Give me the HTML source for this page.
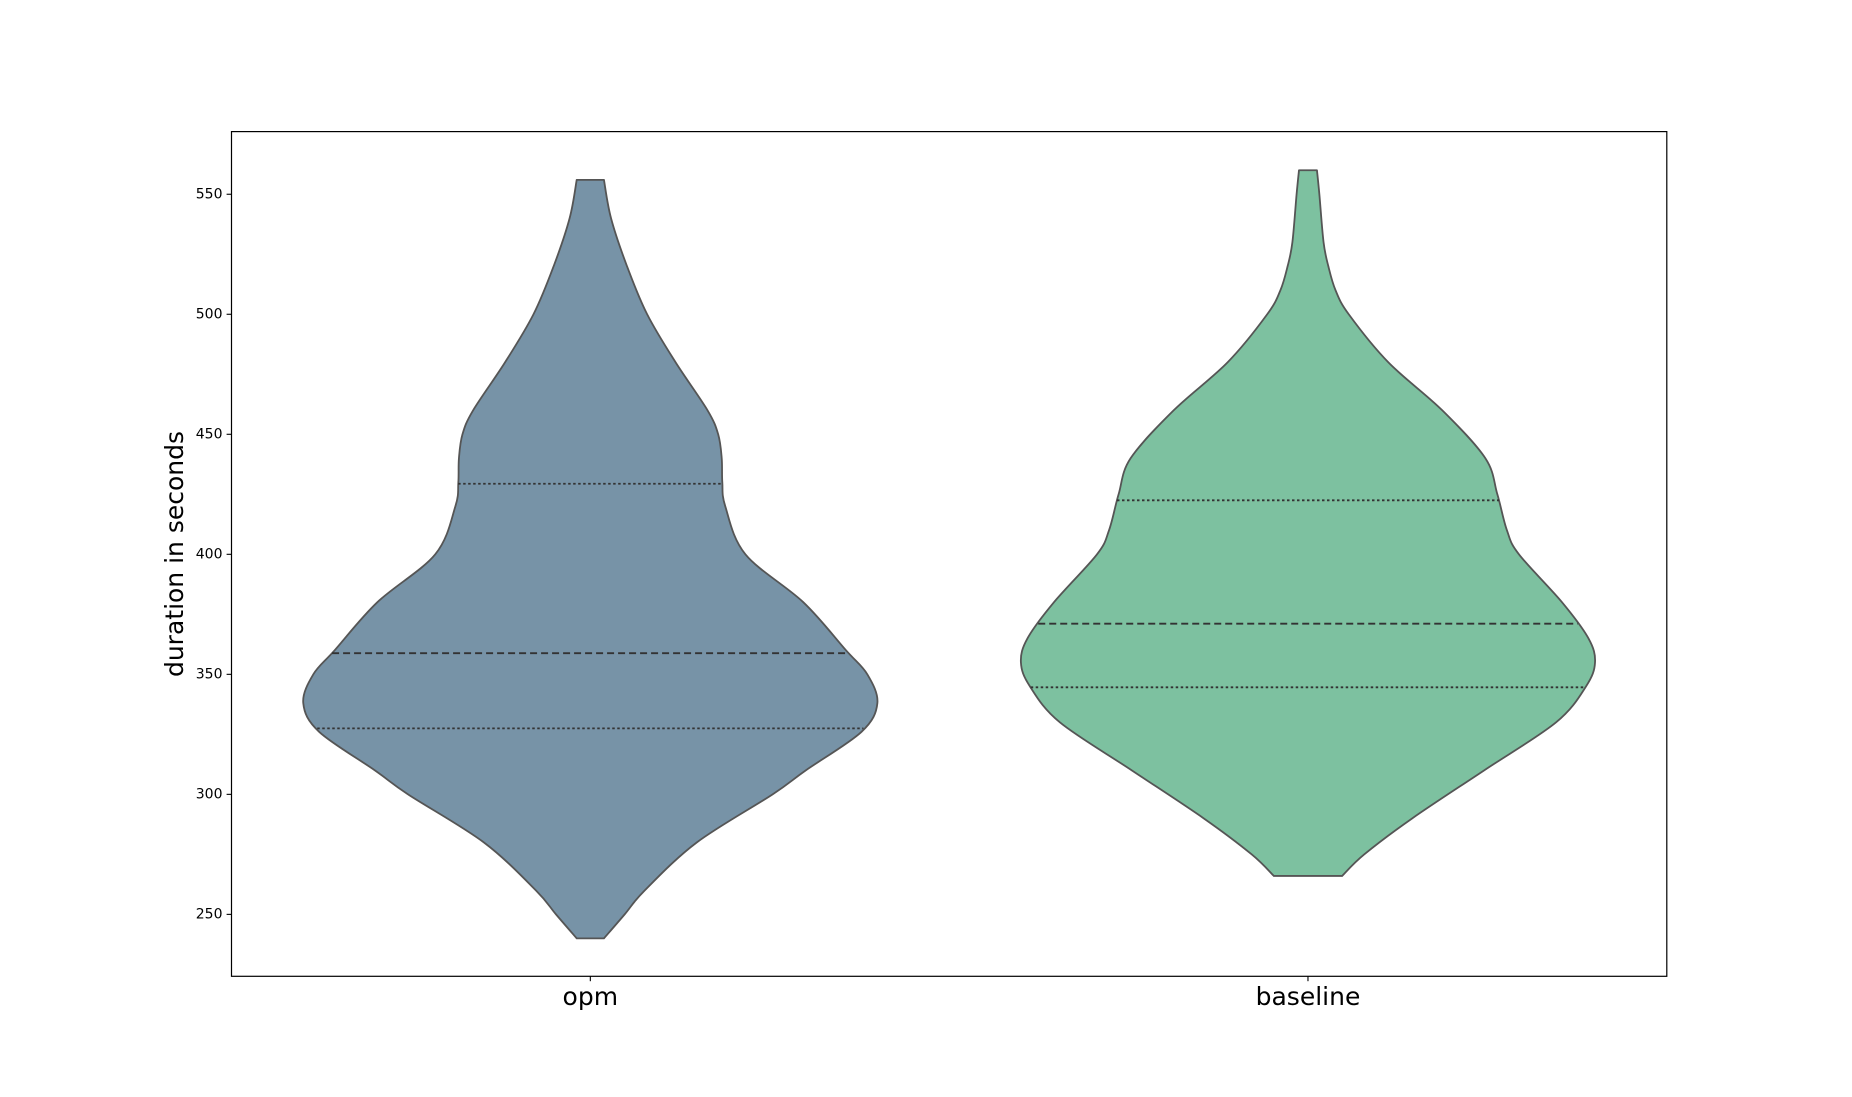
<!DOCTYPE html>
<html><head><meta charset="utf-8">
<style>
html,body{margin:0;padding:0;background:#fff;}
svg{display:block;font-family:"DejaVu Sans","Liberation Sans",sans-serif;}
</style></head>
<body>
<svg id="chart" width="1852" height="1097" viewBox="0 0 1852 1097" xmlns="http://www.w3.org/2000/svg">
<rect x="0" y="0" width="1852" height="1097" fill="#fff"/>
<g id="plot"></g>
<text x="176" y="554" font-size="25" text-anchor="middle" transform="rotate(-90 176 554)" dominant-baseline="middle" fill="#000">duration in seconds</text>
</svg>
<script>
const categories = ["opm", "baseline"];
const colors = ["#7793a7", "#7dc1a0"];
const yTicks = [250, 300, 350, 400, 450, 500, 550];
// density profiles: values (seconds) and relative width
const opmValues   = [556, 540, 520, 500, 480, 460, 450, 440, 430, 420, 400, 380, 360, 350, 338, 326, 310, 300, 280, 260, 250, 240];
const opmDensity  = [11.5, 17.5, 31, 48, 72, 99, 108, 111, 111.5, 114, 131, 180, 216, 234, 242.5, 229, 182, 154, 90, 46, 29, 11.5];
const baseValues  = [560, 550, 530, 520, 510, 500, 480, 460, 440, 425, 410, 400, 380, 365, 355, 345, 330, 310, 290, 275, 266];
const baseDensity = [7.5, 9.5, 13, 17, 23, 34, 67, 112, 148, 158, 166, 176, 212, 234, 239.5, 232, 207, 147, 87, 47, 28.5];
const opmQuartiles  = [327.5, 358.8, 429.4];
const baseQuartiles = [344.6, 371.1, 422.5];

const L = 231.5, R = 1666.8, T = 131.6, B = 976.3;
const yMin = 224.2, yMax = 576.1;
const xMin = -0.5, xMax = 1.5;
const yScale = v => B - (v - yMin) / (yMax - yMin) * (B - T);
const xScale = i => L + (i - xMin) / (xMax - xMin) * (R - L);
const unit = (R - L) / (xMax - xMin);
const maxHalf = 0.4 * unit;
const NS = "http://www.w3.org/2000/svg";
const plot = document.getElementById('plot');
function mk(tag, attrs){const e=document.createElementNS(NS,tag);for(const k in attrs)e.setAttribute(k,attrs[k]);return e;}

function smoothPath(pts){
  let d = "M" + pts[0][0].toFixed(2) + "," + pts[0][1].toFixed(2);
  for(let i=0;i<pts.length-1;i++){
    const p0=pts[Math.max(0,i-1)],p1=pts[i],p2=pts[i+1],p3=pts[Math.min(pts.length-1,i+2)];
    const c1=[p1[0]+(p2[0]-p0[0])/6,p1[1]+(p2[1]-p0[1])/6];
    const c2=[p2[0]-(p3[0]-p1[0])/6,p2[1]-(p3[1]-p1[1])/6];
    d+=" C"+c1[0].toFixed(2)+","+c1[1].toFixed(2)+" "+c2[0].toFixed(2)+","+c2[1].toFixed(2)+" "+p2[0].toFixed(2)+","+p2[1].toFixed(2);
  }
  return d;
}
function halfAt(values, dens, mx, v){
  for(let i=0;i<values.length-1;i++){
    const a=values[i], b=values[i+1];
    if((v<=a&&v>=b)){const t=(a-v)/(a-b);return (dens[i]+(dens[i+1]-dens[i])*t)/mx*maxHalf;}
  }
  return 0;
}
function drawViolin(idx, values, dens, quarts, name){
  const cx = xScale(idx);
  const mx = Math.max(...dens);
  const right = values.map((v,i)=>[cx + dens[i]/mx*maxHalf, yScale(v)]);
  const left = values.map((v,i)=>[cx - dens[i]/mx*maxHalf, yScale(v)]).reverse();
  let d = smoothPath(right);
  const lp = smoothPath(left);
  d += " L" + lp.slice(1) + " Z";
  const p = mk('path',{d:d, fill:colors[idx], stroke:'#555', 'stroke-width':1.8, 'stroke-linejoin':'round'});
  
  
  plot.appendChild(p);
  quarts.forEach((q,k)=>{
    const h = halfAt(values, dens, mx, q);
    const y = yScale(q);
    const ln = mk('line',{x1:cx-h, x2:cx+h, y1:y, y2:y, stroke:'#333', 'stroke-width':1.8,
      'stroke-dasharray': k===1 ? '7,4' : '2.5,2.5'});
    
    
    plot.appendChild(ln);
  });
}
drawViolin(0, opmValues, opmDensity, opmQuartiles, 'opm');
drawViolin(1, baseValues, baseDensity, baseQuartiles, 'baseline');

const frame = mk('rect',{x:L, y:T, width:R-L, height:B-T, fill:'none', stroke:'#000', 'stroke-width':1.2});


plot.appendChild(frame);

yTicks.forEach(t=>{
  const y = yScale(t);
  const tk = mk('line',{x1:L-4.9, x2:L, y1:y, y2:y, stroke:'#000', 'stroke-width':1.1});
  
  
  plot.appendChild(tk);
  const tx = mk('text',{x:L-9, y:y, 'font-size':14, 'text-anchor':'end', 'dominant-baseline':'central', fill:'#000'});
  tx.textContent = t;
  
  
  plot.appendChild(tx);
});
categories.forEach((c,i)=>{
  const x = xScale(i);
  const tk = mk('line',{x1:x, x2:x, y1:B, y2:B+4.9, stroke:'#000', 'stroke-width':1.1});
  
  
  plot.appendChild(tk);
  const tx = mk('text',{x:x, y:1005, 'font-size':25, 'text-anchor':'middle', fill:'#000'});
  tx.textContent = c;
  
  
  plot.appendChild(tx);
});
</script>
</body></html>
